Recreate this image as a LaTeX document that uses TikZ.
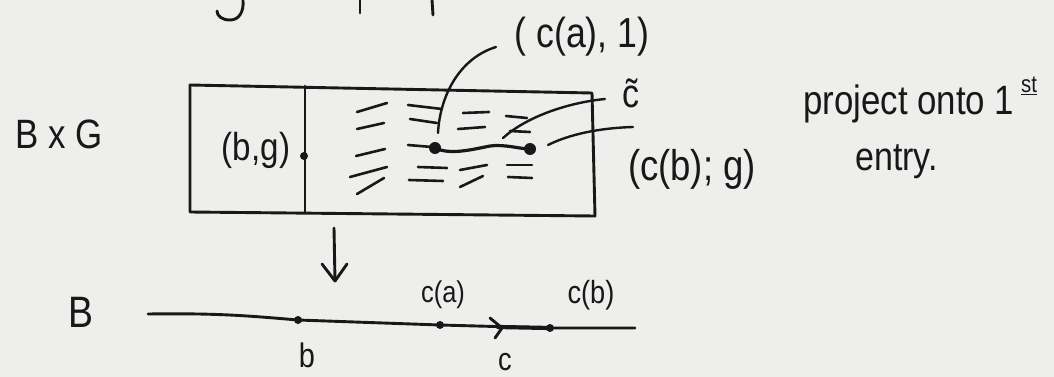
\documentclass[tikz,border=0pt]{standalone}
\usepackage{fontspec}
\setmainfont[FakeStretch=0.85]{Liberation Sans}
\definecolor{paper}{RGB}{238,238,236}
\definecolor{inkc}{RGB}{24,24,24}
\newcommand\hsz[1]{\fontsize{#1}{#1}\selectfont}
\begin{document}
\begin{tikzpicture}[x=1pt,y=-1pt,
  ink/.style={draw=inkc, line width=2.9pt, line cap=round, line join=round},
  hatch/.style={ink, line width=2.6pt},
  lead/.style={ink, line width=2.4pt},
  lbl/.style={inner sep=0pt, anchor=base, text=inkc},
  dotc/.style={circle, fill=inkc, inner sep=0pt, minimum size=#1}]
\fill[paper] (0,0) rectangle (1054,377);
\useasboundingbox (0,0) rectangle (1054,377);

% cut-off strokes at the top edge
\draw[ink] (243,0) .. controls (244,12) and (239,20) .. (230,20) .. controls (222,20) and (217,16) .. (217,11);
\draw[ink] (360,0) -- (360,13);
\draw[ink] (432,0) -- (433,15);

% labels
\node[lbl, anchor=base west] (BG) at (15,148) {\hsz{41}B x G};
\node[lbl] (bg) at (256,160) {\hsz{39}(b,g)};
\node[lbl] (ca1) at (582,48) {\hsz{42}( c(a), 1)};
\node[lbl] (ct) at (631,108) {\hsz{40}\~{c}};
\node[lbl] (cbg) at (692,180) {\hsz{43}(c(b); g)};
\node[lbl, anchor=base west] (proj) at (803,115) {\hsz{41}project onto 1\,\raisebox{.55em}{\hsz{24}\underline{st}}};
\node[lbl, anchor=base west] (entry) at (855,170) {\hsz{40}entry.};
\node[lbl, anchor=base west] (B) at (68,327) {\hsz{44}B};
\node[lbl] (lca) at (443,302) {\hsz{30}c(a)};
\node[lbl] (lcb) at (591,303) {\hsz{32}c(b)};
\node[lbl] (lb) at (307,367) {\hsz{34}b};
\node[lbl] (lc) at (505,370) {\hsz{32}c};

% box B x G
\draw[ink] (190,85) -- (592,93) -- (595,216) -- (190,212) -- cycle;
\draw[ink] (305,86) -- (305,212);
\node[dotc=8pt] (dbg) at (304,156) {};

% hatching
\foreach \a/\b/\c/\d in {357/112/387/103, 357/129/384/123, 356/156/385/149, 350/177/387/167, 357/194/384/178,
  408/105/442/109, 410/119/437/123, 408/145/432/147, 418/167/447/168, 409/180/443/181,
  463/113/489/112, 458/129/485/127, 460/170/487/165, 460/187/483/176,
  506/116/527/118, 510/131/530/132, 507/165/532/165, 508/177/532/178}
  \draw[hatch] (\a,\b) -- (\c,\d);

% lifted path c~
\node[dotc=12pt] (dA) at (435,148) {};
\node[dotc=12pt] (dB) at (530,149) {};
\draw[ink, line width=3.2pt] (dA.center) .. controls (450,155) and (470,150) .. (490,146) .. controls (505,144) and (520,149) .. (dB.center);

% leaders
\coordinate (s1) at (438,133); \coordinate (e1) at (496,47);
\draw[lead] (s1) .. controls (440,95) and (460,58) .. (e1);
\coordinate (s2) at (503,138); \coordinate (e2) at (605,99);
\draw[lead] (s2) .. controls (525,118) and (565,103) .. (e2);
\coordinate (s3) at (548,145); \coordinate (e3) at (633,127);
\draw[lead] (s3) .. controls (570,134) and (600,128) .. (e3);

% projection arrow
\coordinate (pa) at (334,228); \coordinate (pz) at (335,281);
\draw[ink] (pa) -- (pz);
\draw[ink] (pz) -- ++(-13,-17);
\draw[ink] (pz) -- ++(12,-17);

% base line B
\coordinate (L0) at (148,314);
\coordinate (pb) at (298,320);
\coordinate (pca) at (440,325);
\coordinate (pcb) at (550,328);
\coordinate (L1) at (635,328);
\draw[ink] (L0) .. controls (220,313) and (250,316) .. (pb) -- (pca) -- (pcb) -- (L1);
\draw[ink, line width=4.2pt] (498,327) -- (pcb);
\draw[ink] (490,318) -- (502,328) -- (495,338);
\node[dotc=8pt] (db) at (pb) {};
\node[dotc=8pt] (dca) at (pca) {};
\node[dotc=8pt] (dcb) at (pcb) {};
\end{tikzpicture}
\end{document}
